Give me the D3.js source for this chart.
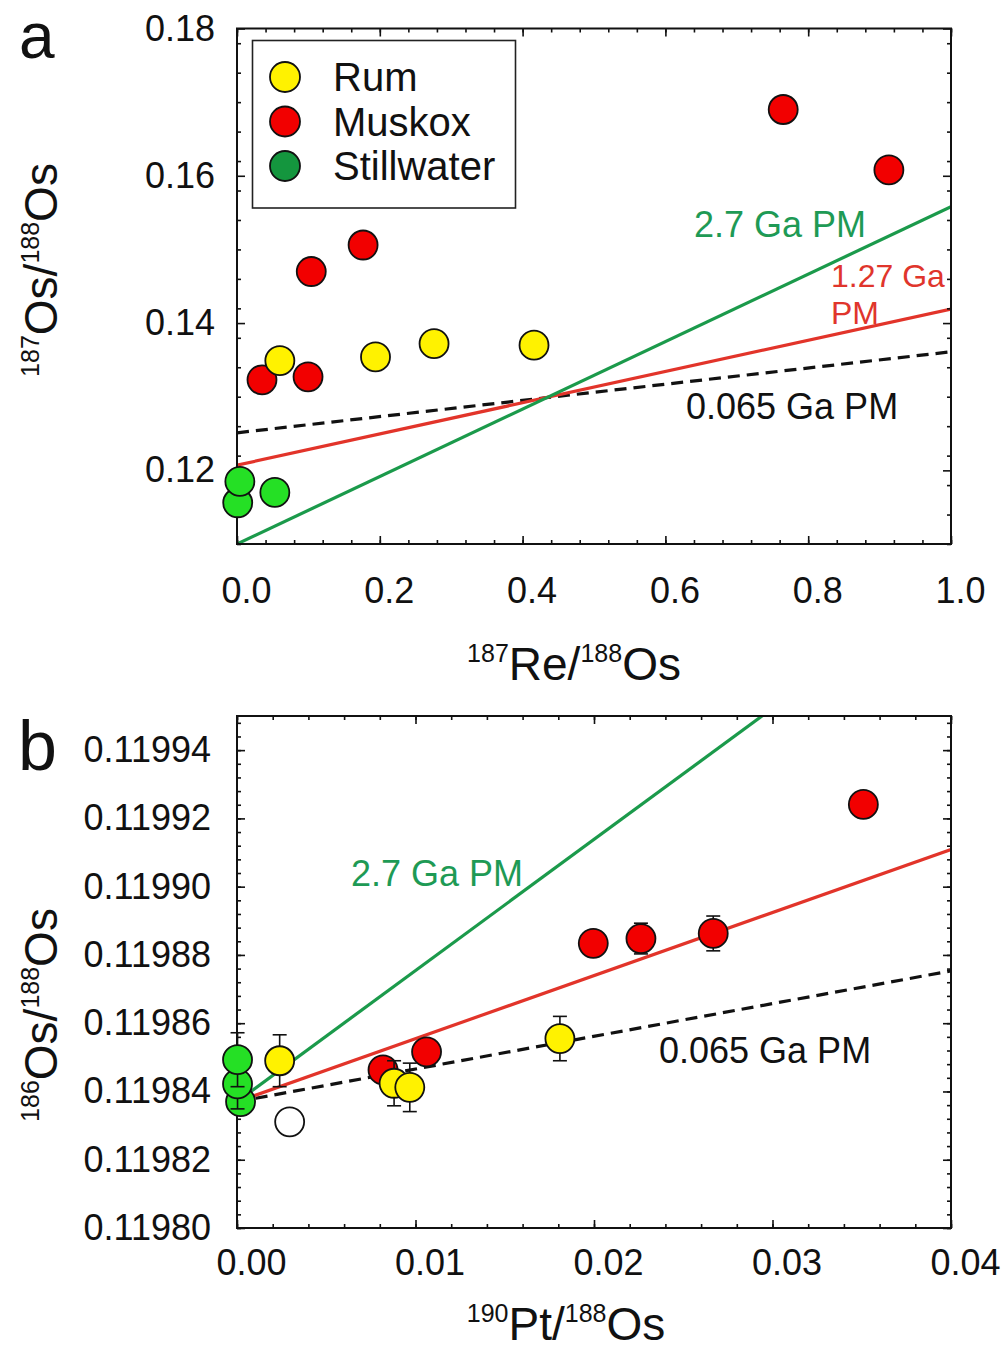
<!DOCTYPE html>
<html>
<head>
<meta charset="utf-8">
<script src="https://cdn.jsdelivr.net/npm/d3@7"></script>
<style>
  body { margin: 0; background: #fff; }
  text { font-family: "Liberation Sans", Arial, sans-serif; fill: #111; }
</style>
</head>
<body>
<svg id="fig" width="1003" height="1352"></svg>
<script>
// ---------- Panel a: 187Os/188Os vs 187Re/188Os ----------
const groupNames = ["Rum", "Muskox", "Stillwater"];

const rumReOs   = [0.060, 0.194, 0.276, 0.416];
const rumOsOs   = [0.1349, 0.1354, 0.1372, 0.1370];

const muskoxReOs = [0.035, 0.0995, 0.104, 0.1766, 0.765, 0.913];
const muskoxOsOs = [0.1323, 0.1327, 0.1470, 0.1506, 0.1690, 0.1608];

const stillReOs = [0.001, 0.004, 0.053];
const stillOsOs = [0.1156, 0.1185, 0.1170];

// reference mantle isochrons: intercept + slope * x
const isoNamesA      = ["0.065 Ga PM", "1.27 Ga PM", "2.7 Ga PM"];
const isoInterceptsA = [0.1251, 0.1207, 0.1100];
const isoSlopesA     = [0.0110, 0.0212, 0.0458];

const xTicksA = [0.0, 0.2, 0.4, 0.6, 0.8, 1.0];
const yTicksA = [0.12, 0.14, 0.16, 0.18];

// ---------- Panel b: 186Os/188Os vs 190Pt/188Os ----------
const rumPtOs   = [0.00239, 0.0088, 0.00968, 0.01809];
const rumOs186  = [0.1198490, 0.1198424, 0.1198412, 0.1198555];
const rumErr    = [0.0000076, 0.0000066, 0.0000071, 0.0000065];

const muskoxPtOs  = [0.00818, 0.01062, 0.01996, 0.02263, 0.02668, 0.03509];
const muskoxOs186 = [0.1198463, 0.1198516, 0.1198834, 0.1198848, 0.1198863, 0.1199241];
const muskoxErr   = [0, 0, 0, 0.0000045, 0.0000051, 0];

const stillPtOs  = [0.0002, 0.00003, 0.00003];
const stillOs186 = [0.1198370, 0.1198422, 0.1198493];
const stillErr   = [0.000002, 0.0000073, 0.0000079];

const openPtOs  = [0.00295];
const openOs186 = [0.1198311];

const isoNamesB      = ["0.065 Ga PM", "1.27 Ga PM", "2.7 Ga PM"];
const isoInterceptsB = [0.119837, 0.119837, 0.119837];
const isoSlopesB     = [0.000958, 0.0018475, 0.003842];

const xTicksB = [0.00, 0.01, 0.02, 0.03, 0.04];
const yTicksB = [0.11980, 0.11982, 0.11984, 0.11986, 0.11988, 0.11990, 0.11992, 0.11994];

// ---------- styling ----------
const fillColor = { Rum: "#fff200", Muskox: "#f20000", Stillwater: "#25e025" };
const legendFill = { Rum: "#fff200", Muskox: "#f20000", Stillwater: "#14963e" };
const lineColor = ["#111", "#e2342a", "#1b9a4b"];
const R = 14.5;

const svg = d3.select("#fig");
svg.append("rect").attr("width", 1003).attr("height", 1352).attr("fill", "#fff");

function zip(xs, ys, es) {
  return xs.map((x, i) => ({ x, y: ys[i], e: es ? es[i] : 0 }));
}

function frame(g, x, y, cfg) {
  const [x0, x1] = x.range();
  const [y0, y1] = y.range(); // y0 = bottom, y1 = top
  const styleTicks = sel => {
    sel.select(".domain").remove();
    sel.selectAll(".tick line").attr("stroke", "#111").attr("stroke-width", 1.6);
  };
  // bottom
  g.append("g").attr("transform", `translate(0,${y0})`)
    .call(d3.axisBottom(x).tickValues(cfg.xMinor).tickSize(-4).tickFormat(""))
    .call(styleTicks);
  const bx = g.append("g").attr("transform", `translate(0,${y0})`)
    .call(d3.axisBottom(x).tickValues(cfg.xMajor).tickSize(-8).tickPadding(cfg.xPad).tickFormat(cfg.xFmt))
    .call(styleTicks);
  bx.selectAll("text").attr("font-size", cfg.tickFont).attr("x", cfg.xShift).attr("font-family", "Liberation Sans, Arial, sans-serif");
  // top
  g.append("g").attr("transform", `translate(0,${y1})`)
    .call(d3.axisTop(x).tickValues(cfg.xMinor).tickSize(-4).tickFormat("")).call(styleTicks);
  g.append("g").attr("transform", `translate(0,${y1})`)
    .call(d3.axisTop(x).tickValues(cfg.xMajor).tickSize(-8).tickFormat("")).call(styleTicks);
  // left
  g.append("g").attr("transform", `translate(${x0},0)`)
    .call(d3.axisLeft(y).tickValues(cfg.yMinor).tickSize(-4).tickFormat("")).call(styleTicks);
  const ly = g.append("g").attr("transform", `translate(${x0},0)`)
    .call(d3.axisLeft(y).tickValues(cfg.yMajor).tickSize(-8).tickPadding(cfg.yPad).tickFormat(cfg.yFmt))
    .call(styleTicks);
  ly.selectAll("text").attr("font-size", cfg.tickFont).attr("font-family", "Liberation Sans, Arial, sans-serif");
  // right
  g.append("g").attr("transform", `translate(${x1},0)`)
    .call(d3.axisRight(y).tickValues(cfg.yMinor).tickSize(-4).tickFormat("")).call(styleTicks);
  g.append("g").attr("transform", `translate(${x1},0)`)
    .call(d3.axisRight(y).tickValues(cfg.yMajor).tickSize(-8).tickFormat("")).call(styleTicks);
  // border
  g.append("rect").attr("x", x0).attr("y", y1).attr("width", x1 - x0).attr("height", y0 - y1)
    .attr("fill", "none").attr("stroke", "#111").attr("stroke-width", 2);
}

function isochrons(g, x, y, intercepts, slopes, clipId) {
  const [xa, xb] = x.domain();
  intercepts.forEach((b, i) => {
    const m = slopes[i];
    g.append("line")
      .attr("clip-path", `url(#${clipId})`)
      .attr("x1", x(xa)).attr("y1", y(b + m * xa))
      .attr("x2", x(xb)).attr("y2", y(b + m * xb))
      .attr("stroke", lineColor[i]).attr("stroke-width", 3.2)
      .attr("stroke-dasharray", i === 0 ? "12,7" : null);
  });
}

function clip(id, x, y) {
  svg.append("defs").append("clipPath").attr("id", id).append("rect")
    .attr("x", x.range()[0]).attr("y", y.range()[1])
    .attr("width", x.range()[1] - x.range()[0]).attr("height", y.range()[0] - y.range()[1]);
}

function points(g, x, y, data, fill, withErr) {
  data.forEach(d => {
    if (withErr && d.e > 0) {
      const cx = x(d.x), ya = y(d.y + d.e), yb = y(d.y - d.e);
      g.append("line").attr("x1", cx).attr("x2", cx).attr("y1", ya).attr("y2", yb)
        .attr("stroke", "#111").attr("stroke-width", 1.6);
      [ya, yb].forEach(yy => g.append("line").attr("x1", cx - 7).attr("x2", cx + 7)
        .attr("y1", yy).attr("y2", yy).attr("stroke", "#111").attr("stroke-width", 1.6));
    }
    g.append("circle").attr("cx", x(d.x)).attr("cy", y(d.y)).attr("r", R)
      .attr("fill", fill).attr("stroke", "#111").attr("stroke-width", 1.8);
  });
}

function supTitle(g, parts, size, supSize) {
  // parts: [[superscript, base], ...]
  parts.forEach(([sup, base]) => {
    g.append("tspan").attr("font-size", supSize).attr("dy", -size * 0.4).text(sup);
    g.append("tspan").attr("font-size", size).attr("dy", size * 0.4).text(base);
  });
}

// ================= Panel a =================
const xA = d3.scaleLinear().domain([0, 1]).range([237, 951]);
const yA = d3.scaleLinear().domain([0.11, 0.18]).range([544, 28.5]);
const gA = svg.append("g");
clip("clipA", xA, yA);

isochrons(gA, xA, yA, isoInterceptsA, isoSlopesA, "clipA");

frame(gA, xA, yA, {
  xMajor: xTicksA, xMinor: d3.range(0, 1.0001, 0.04),
  yMajor: yTicksA, yMinor: d3.range(0.11, 0.18001, 0.004),
  xFmt: d3.format(".1f"), yFmt: d3.format(".2f"),
  xPad: 33, yPad: 22, tickFont: 36, xShift: 9
});

const ptsA = gA.append("g");
points(ptsA, xA, yA, zip(stillReOs, stillOsOs), fillColor.Stillwater, false);
points(ptsA, xA, yA, zip(muskoxReOs, muskoxOsOs), fillColor.Muskox, false);
points(ptsA, xA, yA, zip(rumReOs, rumOsOs), fillColor.Rum, false);

// isochron labels
gA.append("text").attr("x", 694).attr("y", 237).attr("font-size", 36).style("fill", "#1e9a55").text(isoNamesA[2]);
gA.append("text").attr("x", 831).attr("y", 287).attr("font-size", 32).style("fill", "#e0352c").text("1.27 Ga");
gA.append("text").attr("x", 831).attr("y", 324).attr("font-size", 32).style("fill", "#e0352c").text("PM");
gA.append("text").attr("x", 686).attr("y", 419).attr("font-size", 36).style("fill", "#111").text(isoNamesA[0]);

// legend
const leg = gA.append("g");
leg.append("rect").attr("x", 252.5).attr("y", 40.5).attr("width", 263).attr("height", 167.5)
  .attr("fill", "#fff").attr("stroke", "#222").attr("stroke-width", 1.6);
groupNames.forEach((n, i) => {
  const cy = 77 + i * 44.5;
  leg.append("circle").attr("cx", 285).attr("cy", cy).attr("r", 15)
    .attr("fill", legendFill[n]).attr("stroke", "#111").attr("stroke-width", 1.8);
  leg.append("text").attr("x", 333).attr("y", cy).attr("dy", "0.36em").attr("font-size", 40).text(n);
});

// panel letter and axis titles
svg.append("text").attr("x", 19).attr("y", 58).attr("font-size", 64).text("a");
const tyA = svg.append("text").attr("transform", "translate(57,270) rotate(-90)").attr("text-anchor", "middle");
supTitle(tyA, [["187", "Os/"], ["188", "Os"]], 46, 25);
const txA = svg.append("text").attr("x", 574).attr("y", 680).attr("text-anchor", "middle");
supTitle(txA, [["187", "Re/"], ["188", "Os"]], 46, 25);

// ================= Panel b =================
const xB = d3.scaleLinear().domain([0, 0.04]).range([237, 951]);
const yB = d3.scaleLinear().domain([0.11980, 0.11995]).range([1228, 716]);
const gB = svg.append("g");
clip("clipB", xB, yB);

isochrons(gB, xB, yB, isoInterceptsB, isoSlopesB, "clipB");

frame(gB, xB, yB, {
  xMajor: xTicksB, xMinor: d3.range(0, 0.04001, 0.002),
  yMajor: yTicksB, yMinor: d3.range(0.11980, 0.119950001, 0.000004),
  xFmt: d3.format(".2f"), yFmt: d3.format(".5f"),
  xPad: 21, yPad: 26, tickFont: 36, xShift: 14
});

points(gB, xB, yB, zip(stillPtOs, stillOs186, stillErr), fillColor.Stillwater, true);
points(gB, xB, yB, zip(muskoxPtOs, muskoxOs186, muskoxErr), fillColor.Muskox, true);
points(gB, xB, yB, zip(rumPtOs, rumOs186, rumErr), fillColor.Rum, true);
points(gB, xB, yB, zip(openPtOs, openOs186), "#fff", false);

gB.append("text").attr("x", 351).attr("y", 886).attr("font-size", 36).style("fill", "#1e9a55").text(isoNamesB[2]);
gB.append("text").attr("x", 659).attr("y", 1063).attr("font-size", 36).style("fill", "#111").text(isoNamesB[0]);

svg.append("text").attr("x", 18).attr("y", 770).attr("font-size", 70).text("b");
const tyB = svg.append("text").attr("transform", "translate(57,1015) rotate(-90)").attr("text-anchor", "middle");
supTitle(tyB, [["186", "Os/"], ["188", "Os"]], 46, 25);
const txB = svg.append("text").attr("x", 566).attr("y", 1340).attr("text-anchor", "middle");
supTitle(txB, [["190", "Pt/"], ["188", "Os"]], 46, 25);
</script>
</body>
</html>
